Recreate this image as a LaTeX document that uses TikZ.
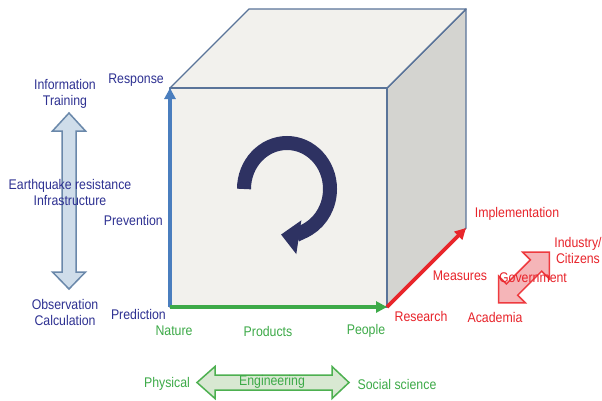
\documentclass[tikz,border=0pt]{standalone}
\usepackage{fontspec}
\setmainfont{Liberation Sans}[FakeStretch=0.88]
\usetikzlibrary{arrows.meta}
\definecolor{edgeblue}{HTML}{5A7499}
\definecolor{facelight}{HTML}{F2F1ED}
\definecolor{faceside}{HTML}{D4D4D0}
\definecolor{axisblue}{HTML}{4A7EBE}
\definecolor{axisgreen}{HTML}{3DAA48}
\definecolor{axisred}{HTML}{E8262B}
\definecolor{txtblue}{HTML}{2E3192}
\definecolor{txtgreen}{HTML}{3DAA48}
\definecolor{txtred}{HTML}{E8232A}
\definecolor{navy}{HTML}{2E3262}
\definecolor{bfill}{HTML}{CFDDEA}
\definecolor{bline}{HTML}{6A88AA}
\definecolor{gfill}{HTML}{D8E8D2}
\definecolor{gline}{HTML}{4DB050}
\definecolor{rfill}{HTML}{F5B5B8}
\definecolor{rline}{HTML}{EE3B3F}
\tikzset{
  lbl/.style={inner sep=0pt, font=\fontsize{14}{16}\selectfont, align=center},
  bl/.style={lbl, text=txtblue},
  gl/.style={lbl, text=txtgreen},
  rl/.style={lbl, text=txtred},
  face/.style={draw=edgeblue, line width=1.4pt, line join=round},
  axis/.style={line width=3.8pt, -{Triangle[length=11pt,width=11pt]}},
}
\begin{document}
\begin{tikzpicture}[x=1pt,y=-1pt]
\useasboundingbox (0,0) rectangle (602,400);
\fill[white] (0,0) rectangle (602,400);
% cube corners
\coordinate (ftl) at (170,88);
\coordinate (ftr) at (387,88);
\coordinate (fbl) at (170,307);
\coordinate (fbr) at (387,307);
\coordinate (btl) at (249,9);
\coordinate (btr) at (466,9);
\coordinate (bbr) at (466,228);
% faces
\draw[face, fill=faceside] (ftr) -- (btr) -- (bbr) -- (fbr) -- cycle;
\draw[face, fill=facelight] (ftl) -- (btl) -- (btr) -- (ftr) -- cycle;
\draw[face, fill=facelight] (ftl) -- (ftr) -- (fbr) -- (fbl) -- cycle;
% axes
\draw[axis, axisblue] (fbl) -- (ftl);
\draw[axis, axisgreen] (fbl) -- (fbr);
\draw[axis, axisred] (fbr) -- (bbr);
% rotating arrow
\draw[navy, line width=14pt, -{Triangle[length=18pt,width=33pt]}] (244,189) arc[start angle=180, end angle=458, x radius=43, y radius=46];
% vertical blue double arrow
\draw[fill=bfill, draw=bline, line width=1.5pt, line join=miter]
  (69,113) -- (85.5,131) -- (76,131) -- (76,272) -- (85.5,272) -- (69,289)
  -- (52.5,272) -- (62,272) -- (62,131) -- (52.5,131) -- cycle;
% horizontal green double arrow
\draw[fill=gfill, draw=gline, line width=1.5pt]
  (197,382.5) -- (215,366.5) -- (215,375) -- (332,375) -- (332,366.5) -- (349,382.5)
  -- (332,398.5) -- (332,390) -- (215,390) -- (215,398.5) -- cycle;
% red diagonal double arrow
\begin{scope}[shift={(524,277.5)}, rotate=45]
\draw[fill=rfill, draw=rline, line width=1.5pt]
  (36,0) -- (17,19) -- (17,8) -- (-17,8) -- (-17,19) -- (-36,0)
  -- (-17,-19) -- (-17,-8) -- (17,-8) -- (17,-19) -- cycle;
\end{scope}
% labels
\node[bl] (info) at (65,94) {Information\\Training};
\node[bl, anchor=east] (resp) at (164,80) {Response};
\node[bl] (eq) at (70,192) {Earthquake resistance\\Infrastructure};
\node[bl, anchor=east] (prev) at (163,220) {Prevention};
\node[bl] (obs) at (65,312) {Observation\\Calculation};
\node[bl, anchor=east] (pred) at (166,314) {Prediction};
\node[gl] (nat) at (174,331) {Nature};
\node[gl] (prod) at (268,331) {Products};
\node[gl] (peop) at (366,331) {People};
\node[rl] (res) at (421,316) {Research};
\node[rl] (meas) at (460,276) {Measures};
\node[rl] (impl) at (517,214) {Implementation};
\node[rl] (ind) at (578,250) {Industry/\\Citizens};
\node[rl] (gov) at (533,278) {Government};
\node[rl] (acad) at (495,317) {Academia};
\node[gl] (phys) at (167,384) {Physical};
\node[gl] (eng) at (272,382) {Engineering};
\node[gl] (soc) at (397,384) {Social science};
\end{tikzpicture}
\end{document}
